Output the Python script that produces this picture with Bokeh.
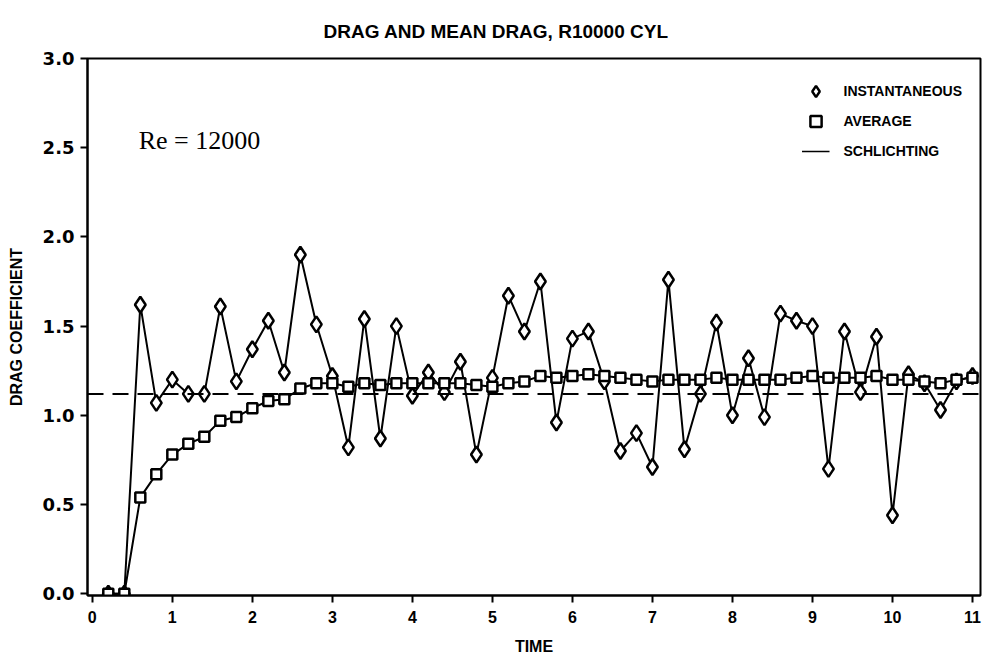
from bokeh.plotting import figure
from bokeh.models import Span, Label, Legend, LegendItem, FixedTicker, Range1d, ColumnDataSource, NumeralTickFormatter
from bokeh.embed import file_html
from bokeh.resources import INLINE

TITLE = "DRAG AND MEAN DRAG, R10000 CYL"
X_LABEL = "TIME"
Y_LABEL = "DRAG COEFFICIENT"
ANNOTATION = "Re = 12000"

TIME = [0.2, 0.4, 0.6, 0.8, 1.0, 1.2, 1.4, 1.6, 1.8, 2.0,
        2.2, 2.4, 2.6, 2.8, 3.0, 3.2, 3.4, 3.6, 3.8, 4.0,
        4.2, 4.4, 4.6, 4.8, 5.0, 5.2, 5.4, 5.6, 5.8, 6.0,
        6.2, 6.4, 6.6, 6.8, 7.0, 7.2, 7.4, 7.6, 7.8, 8.0,
        8.2, 8.4, 8.6, 8.8, 9.0, 9.2, 9.4, 9.6, 9.8, 10.0,
        10.2, 10.4, 10.6, 10.8, 11.0]

INSTANTANEOUS = [0.00, 0.00, 1.62, 1.07, 1.20, 1.12, 1.12, 1.61, 1.19, 1.37,
                 1.53, 1.24, 1.90, 1.51, 1.22, 0.82, 1.54, 0.87, 1.50, 1.11,
                 1.24, 1.13, 1.30, 0.78, 1.21, 1.67, 1.47, 1.75, 0.96, 1.43,
                 1.47, 1.19, 0.80, 0.90, 0.71, 1.76, 0.81, 1.12, 1.52, 1.00,
                 1.32, 0.99, 1.57, 1.53, 1.50, 0.70, 1.47, 1.13, 1.44, 0.44,
                 1.23, 1.18, 1.03, 1.19, 1.22]

AVERAGE = [0.00, 0.00, 0.54, 0.67, 0.78, 0.84, 0.88, 0.97, 0.99, 1.04,
           1.08, 1.09, 1.15, 1.18, 1.18, 1.16, 1.18, 1.17, 1.18, 1.18,
           1.18, 1.18, 1.18, 1.17, 1.16, 1.18, 1.19, 1.22, 1.21, 1.22,
           1.23, 1.22, 1.21, 1.20, 1.19, 1.20, 1.20, 1.20, 1.21, 1.20,
           1.20, 1.20, 1.20, 1.21, 1.22, 1.21, 1.21, 1.21, 1.22, 1.20,
           1.20, 1.19, 1.18, 1.20, 1.21]

SCHLICHTING = 1.12

X_TICKS = [0, 1, 2, 3, 4, 5, 6, 7, 8, 9, 10, 11]
Y_TICKS = [0.0, 0.5, 1.0, 1.5, 2.0, 2.5, 3.0]

src = ColumnDataSource(dict(t=TIME, inst=INSTANTANEOUS, avg=AVERAGE))

p = figure(
    frame_width=893, frame_height=537,
    x_range=Range1d(-0.06, 11.1), y_range=Range1d(-0.01, 3.0),
    output_backend="svg", toolbar_location=None,
    min_border_left=87, min_border_right=4, min_border_top=58, min_border_bottom=60,
    background_fill_color="white", border_fill_color="white",
)
p.grid.visible = False
p.outline_line_color = "black"
p.outline_line_width = 2

p.title.text = TITLE
p.title.align = "left"
p.title.offset = 236
p.title.standoff = 33
p.title.text_font = "Liberation Sans"
p.title.text_font_style = "bold"
p.title.text_font_size = "19px"
p.title.text_color = "black"

# axes
p.xaxis.ticker = FixedTicker(ticks=X_TICKS)
p.yaxis.ticker = FixedTicker(ticks=Y_TICKS)
p.yaxis.formatter = NumeralTickFormatter(format="0.0")
for ax in (p.xaxis[0], p.yaxis[0]):
    ax.axis_line_width = 2
    ax.major_tick_line_width = 2
    ax.major_tick_in = 0
    ax.major_tick_out = 7
    ax.minor_tick_line_color = None
    ax.major_label_text_font_style = "bold"
    ax.major_label_text_color = "black"
    ax.axis_label_text_font = "Liberation Sans"
    ax.axis_label_text_font_style = "bold"
    ax.axis_label_text_font_size = "16px"
    ax.axis_label_text_color = "black"
p.xaxis.major_label_text_font = "Liberation Sans"
p.xaxis.major_label_text_font_size = "16px"
p.yaxis.major_label_text_font = "DejaVu Sans"
p.yaxis.major_label_text_font_size = "18px"
p.xaxis.axis_label = X_LABEL
p.yaxis.axis_label = Y_LABEL
p.xaxis.major_label_standoff = 8
p.xaxis.axis_label_standoff = 12
p.yaxis.major_label_standoff = 6
p.yaxis.axis_label_standoff = 15

# reference line
p.add_layout(Span(location=SCHLICHTING, dimension="width", line_color="black",
                  line_width=2, line_dash="16 9"))

# series
p.line("t", "inst", source=src, line_color="black", line_width=2)
p.line("t", "avg", source=src, line_color="black", line_width=2)
r_inst = p.scatter("t", "inst", source=src, marker="diamond", size=16,
                   line_color="black", line_width=2.5, fill_color="white")
r_avg = p.scatter("t", "avg", source=src, marker="square", size=10,
                  line_color="black", line_width=2.5, fill_color="white")
# single-point line: draws nothing in the plot, gives the legend its short solid line
r_sch = p.line(x=[X_TICKS[0]], y=[SCHLICHTING], line_color="black", line_width=1.5)

legend = Legend(items=[
    LegendItem(label="INSTANTANEOUS", renderers=[r_inst]),
    LegendItem(label="AVERAGE", renderers=[r_avg]),
    LegendItem(label="SCHLICHTING", renderers=[r_sch]),
], location="top_right")
legend.border_line_alpha = 0
legend.background_fill_alpha = 0
legend.label_text_font = "Liberation Sans"
legend.label_text_font_style = "bold"
legend.label_text_font_size = "14px"
legend.label_text_color = "black"
legend.glyph_width = 28
legend.glyph_height = 30
legend.label_height = 30
legend.spacing = 0
legend.padding = 8
legend.margin = 10
legend.label_standoff = 14
p.add_layout(legend)

p.add_layout(Label(x=0.58, y=2.54, text=ANNOTATION, text_font="Liberation Serif",
                   text_font_size="26px", text_baseline="middle", text_color="black"))

open("out.html", "w").write(file_html(p, INLINE))
